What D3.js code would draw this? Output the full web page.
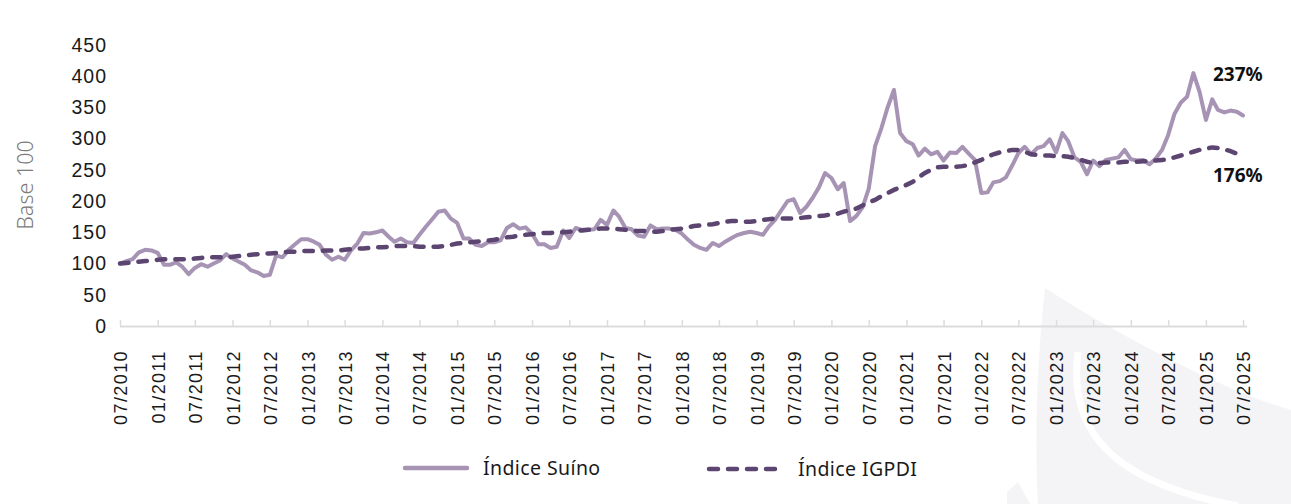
<!DOCTYPE html>
<html>
<head>
<meta charset="utf-8">
<script src="https://cdn.jsdelivr.net/npm/d3@7/dist/d3.min.js"></script>
<style>
  body { margin: 0; background: #fff; }
  svg { display: block; font-family: "Noto Sans", sans-serif; }
</style>
</head>
<body>
<svg id="chart" width="1291" height="504"></svg>
<script>
// serie mensal, 07/2010 .. 07/2025 (base 100)
const startMonth = new Date(2010, 6, 1);

const suino = [
  100, 104, 107, 118, 122, 121, 117, 98, 98, 102, 95, 83,
  93, 99, 95, 100, 105, 115, 108, 103, 98, 89, 86, 80,
  82, 113, 110, 122, 131, 139, 139, 135, 130, 114, 106, 111,
  106, 121, 132, 149, 148, 150, 153, 143, 135, 140, 134, 133,
  146, 159, 171, 183, 185, 172, 165, 140, 140, 130, 128, 134,
  134, 137, 157, 163, 156, 158, 148, 131, 131, 125, 127, 153,
  141, 157, 154, 154, 155, 170, 162, 185, 175, 157, 155, 145,
  143, 161, 155, 156, 156, 154, 148, 138, 130, 125, 122, 133,
  128, 135, 141, 146, 149, 151, 149, 146, 159, 170, 185, 200,
  203, 181, 191, 205, 222, 245, 237, 219, 229, 168, 176, 190,
  220, 288, 317, 350, 378, 309, 296, 291, 273, 284, 275, 279,
  265, 278, 277, 287, 276, 266, 213, 214, 230, 232, 238, 257,
  277, 287, 275, 285, 288, 299, 278, 309, 296, 270, 263, 243,
  265, 256, 266, 268, 270, 282, 267, 265, 266, 259, 268, 282,
  306, 340, 358, 367, 405, 375, 330, 363, 346, 342, 345, 343,
  337
];

const igpdi = [
  100, 101, 102, 103, 104, 105, 106, 107, 107, 107, 107, 107,
  108, 109, 110, 110, 110, 110, 111, 112, 113, 114, 115, 116,
  116, 117, 118, 119, 119, 120, 120, 120, 120, 121, 121, 121,
  122, 123, 124, 124, 125, 126, 126, 127, 128, 128, 128, 128,
  127, 127, 127, 127, 128, 130, 132, 133, 134, 135, 136, 137,
  138, 140, 142, 143, 145, 146, 147, 148, 149, 149, 150, 150,
  151, 152, 153, 154, 155, 156, 156, 156, 155, 154, 153, 152,
  152, 151, 151, 152, 154, 155, 156, 158, 160, 161, 162, 163,
  165, 167, 168, 168, 167, 167, 168, 170, 171, 172, 172, 172,
  172, 173, 174, 175, 176, 177, 179, 180, 183, 186, 188, 193,
  198, 202, 208, 213, 218, 222, 226, 231, 238, 245, 250, 254,
  255, 255, 255, 256, 258, 262, 266, 271, 275, 278, 280, 282,
  282, 279, 275, 274, 273, 273, 272, 272, 271, 269, 266, 263,
  261, 261, 262, 262, 262, 263, 263, 263, 264, 264, 265, 266,
  267, 270, 273, 276, 279, 282, 284, 286, 285, 283, 280, 276
];

const yTicks = [0, 50, 100, 150, 200, 250, 300, 350, 400, 450];
const xTickEvery = 6; // meses
const finalLabels = ["237%", "176%"];
const legendNames = ["Índice Suíno", "Índice IGPDI"];

const colSuino = "#a794b5";
const colIgpdi = "#5c4571";

const svg = d3.select("#chart");

// marca d'agua (folha) no canto
svg.append("path")
  .attr("d", "M1045,288 C1110,330 1220,390 1291,410 L1291,504 L1038,504 C1034,430 1038,350 1045,288 Z")
  .attr("fill", "#f4f3f6");
svg.append("path")
  .attr("d", "M1078,352 C1068,430 1110,482 1238,506")
  .attr("fill", "none")
  .attr("stroke", "#fff")
  .attr("stroke-width", 7);
svg.append("path")
  .attr("d", "M1007,492 L1018,482 L1030,504 L1007,504 Z")
  .attr("fill", "#f4f3f6");

const dates = suino.map((d, i) => d3.timeMonth.offset(startMonth, i));

const x = d3.scaleTime()
  .domain([startMonth, d3.timeMonth.offset(startMonth, suino.length - 1)])
  .range([120, 1243]);

const y = d3.scaleLinear()
  .domain([0, 450])
  .range([326, 45]);

// eixo x
const xTicks = dates.filter((d, i) => i % xTickEvery === 0);
const xAxis = svg.append("g")
  .attr("transform", `translate(0,${y(0)})`)
  .call(d3.axisBottom(x)
    .tickValues(xTicks)
    .tickFormat(d3.timeFormat("%m/%Y"))
    .tickSizeInner(-6)
    .tickSizeOuter(0));

xAxis.select(".domain").remove();
xAxis.append("line")
  .attr("x1", 120).attr("x2", 1247)
  .attr("y1", 0.5).attr("y2", 0.5)
  .attr("stroke", "#dcdcdc")
  .attr("stroke-width", 2);
xAxis.selectAll(".tick line")
  .attr("stroke", "#dcdcdc")
  .attr("stroke-width", 1.5);
xAxis.selectAll(".tick text")
  .attr("transform", "rotate(-90)")
  .attr("x", -24)
  .attr("y", 0)
  .attr("dy", "0.36em")
  .attr("text-anchor", "end")
  .attr("fill", "#1a1a1a")
  .style("font-size", "18px")
  .style("letter-spacing", "1.4px");

// eixo y
const yAxis = svg.append("g")
  .attr("transform", "translate(107,0)")
  .call(d3.axisLeft(y).tickValues(yTicks).tickSize(0).tickPadding(0));
yAxis.select(".domain").remove();
yAxis.selectAll(".tick text")
  .attr("fill", "#1a1a1a")
  .style("font-size", "19.5px")
  .style("letter-spacing", "1px");

svg.append("text")
  .attr("transform", "translate(33,185) rotate(-90)")
  .attr("text-anchor", "middle")
  .attr("fill", "#7b7b7b")
  .style("font-size", "21.5px")
  .style("font-weight", 300)
  .text("Base 100");

// linhas
const line = d3.line()
  .x((d, i) => x(dates[i]))
  .y(d => y(d));

svg.append("path")
  .datum(suino)
  .attr("d", line)
  .attr("fill", "none")
  .attr("stroke", colSuino)
  .attr("stroke-width", 4)
  .attr("stroke-linejoin", "round")
  .attr("stroke-linecap", "round");

svg.append("path")
  .datum(igpdi)
  .attr("d", line)
  .attr("fill", "none")
  .attr("stroke", colIgpdi)
  .attr("stroke-width", 4.5)
  .attr("stroke-dasharray", "8.5,10")
  .attr("stroke-linecap", "round");

// rotulos finais
svg.append("text")
  .attr("x", 1213).attr("y", 81)
  .attr("fill", "#111")
  .style("font-size", "19px")
  .style("font-weight", 700)
  .text(finalLabels[0]);
svg.append("text")
  .attr("x", 1213).attr("y", 182)
  .attr("fill", "#111")
  .style("font-size", "19px")
  .style("font-weight", 700)
  .text(finalLabels[1]);

// legenda
const legend = svg.append("g");
legend.append("line")
  .attr("x1", 405).attr("x2", 467)
  .attr("y1", 468).attr("y2", 468)
  .attr("stroke", colSuino)
  .attr("stroke-width", 4.5)
  .attr("stroke-linecap", "round");
legend.append("text")
  .attr("x", 483).attr("y", 468)
  .attr("dy", "0.35em")
  .attr("fill", "#1a1a1a")
  .style("font-size", "19.5px")
  .style("letter-spacing", "0.4px")
  .text(legendNames[0]);

legend.append("line")
  .attr("x1", 709).attr("x2", 778)
  .attr("y1", 469).attr("y2", 469)
  .attr("stroke", colIgpdi)
  .attr("stroke-width", 4.5)
  .attr("stroke-dasharray", "9,10")
  .attr("stroke-linecap", "round");
legend.append("text")
  .attr("x", 798).attr("y", 469)
  .attr("dy", "0.35em")
  .attr("fill", "#1a1a1a")
  .style("font-size", "19.5px")
  .style("letter-spacing", "0.4px")
  .text(legendNames[1]);
</script>
</body>
</html>
